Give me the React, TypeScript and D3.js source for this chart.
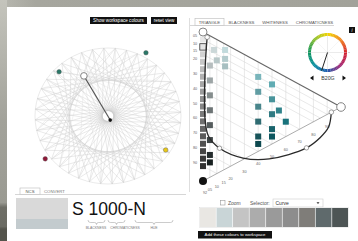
import React from "react";
import * as d3 from "d3";

const W = 358, H = 241;
const FONT = "'Liberation Sans', Arial, sans-serif";

// ---- data ----
const blacknessTicks = [5, 10, 15, 20, 30, 40, 50, 60, 70, 80, 90];
const chromaTicks = [5, 10, 15, 20, 30, 40, 50, 60, 70, 80, 90];
const greyScale = [5, 10, 15, 20, 25, 30, 35, 40, 45, 50, 55, 60, 65, 70, 75, 80, 85, 90];
const sampleS = [8, 4, 14, 10, 20, 15, 30, 40, 50, 60, 70, 80, 85, 10, 10, 20, 20, 30, 30, 25, 40, 40, 30, 50, 45, 55];
const sampleC = [8, 16, 10, 16, 5, 16, 5, 5, 5, 5, 5, 5, 5, 40, 50, 40, 50, 40, 50, 55, 40, 50, 60, 40, 50, 40];
const curveS = [2, 25, 58, 68, 72, 70, 61, 40, 28, 18, 7];
const curveC = [3, 1.5, 1.5, 4, 12, 29, 48, 75, 85, 91, 93];
const curveMarkers = [4, 7];
const stripColours = ["#e9e7e3", "#c9d5d7", "#c4c4c4", "#acacac", "#9a9a9a", "#8d8d8d", "#7f7d79", "#5f6a6c", "#4d5555"];
const hueStops = [0, 0.125, 0.25, 0.375, 0.5, 0.625, 0.75, 0.875, 1];
const hueColours = ["#f3d400", "#f08020", "#d42030", "#a02878", "#1d5fb0", "#0890a0", "#10965a", "#90c030", "#f3d400"];
const selectedHue = 0.55; // B20G
const selectedBlackness = 10;
// projected 3D view markers (normalised -1..1)
const markerX = [-0.67, 0.52, -0.86, 0.79];
const markerY = [-0.65, -0.93, 0.63, 0.5];
const markerFill = ["#2a7868", "#2a7868", "#901838", "#e8c818"];
const nodeXY = [-0.33, -0.59];
const centreXY = [0.03, 0.06];
const chordSteps = [13, 19];
const tabs = ["TRIANGLE", "BLACKNESS", "WHITENESS", "CHROMATICNESS"];

export default function App() {
  React.useEffect(() => {
    document.body.style.margin = "0";
  }, []);

  // triangle scales
  const xC = d3.scaleLinear().domain([0, 100]).range([203, 341]);
  const yS = d3.scaleLinear().domain([0, 100]).range([32, 181]);
  const yShift = d3.scaleLinear().domain([0, 100]).range([0, 75]);
  const P = (s: number, c: number): [number, number] => [xC(c), yS(s) + yShift(c)];
  const grey = (s: number) => d3.interpolateRgb("#f2f2f2", "#1a1a1a")(s / 100);
  const sampleColour = (s: number, c: number) => {
    const w = (100 - s - c) / 100;
    const ch = [0, 150, 165];
    return d3.rgb(w * 242 + (c / 100) * ch[0], w * 242 + (c / 100) * ch[1], w * 242 + (c / 100) * ch[2]).formatHex();
  };

  // left view scales
  const sx = d3.scaleLinear().domain([-1, 1]).range([35, 181]);
  const sy = d3.scaleLinear().domain([-1, 1]).range([48, 184]);
  const N = 40;
  const ringPts = d3.range(N).map((i) => {
    const a = (i / N) * Math.PI * 2 + 0.1;
    return [sx(Math.cos(a)), sy(Math.sin(a))];
  });

  const curveLine = d3.line<number>()
    .x((i) => P(curveS[i], curveC[i])[0])
    .y((i) => P(curveS[i], curveC[i])[1])
    .curve(d3.curveCatmullRom.alpha(0.5));

  // hue wheel
  const hc = [327.5, 52.5];
  const hueCol = d3.scaleLinear<string>().domain(hueStops).range(hueColours).interpolate(d3.interpolateRgb);
  const arc = d3.arc<any>().innerRadius(16.5).outerRadius(19.5);
  const segs = d3.range(72);
  const needleA = selectedHue * Math.PI * 2;

  const brace = (x1: number, x2: number, y: number) => {
    const m = (x1 + x2) / 2;
    return `M${x1},${y} q0,2.5 2.5,2.5 L${m - 2},${y + 2.5} q2,0 2,2 q0,-2 2,-2 L${x2 - 2.5},${y + 2.5} q2.5,0 2.5,-2.5`;
  };

  const stripScale = d3.scaleBand<number>().domain(d3.range(stripColours.length)).range([200, 348]).paddingInner(0.04);

  return (
    <svg width={W} height={H} style={{ position: "absolute", left: 0, top: 0, display: "block", fontFamily: FONT }}>
      <defs>
        <linearGradient id="leftg" x1="0" y1="0" x2="0" y2="1">
          <stop offset="0" stopColor="#c4c4bc" />
          <stop offset="0.5" stopColor="#a2a29a" />
          <stop offset="0.84" stopColor="#9a9a92" />
          <stop offset="0.86" stopColor="#6e6e66" />
          <stop offset="0.94" stopColor="#6a6a62" />
          <stop offset="0.95" stopColor="#54544c" />
          <stop offset="1" stopColor="#54544c" />
        </linearGradient>
        <linearGradient id="topg" x1="0" y1="0" x2="1" y2="0">
          <stop offset="0" stopColor="#b8b8b0" />
          <stop offset="0.1" stopColor="#a6a69e" />
          <stop offset="1" stopColor="#a2a29a" />
        </linearGradient>
      </defs>
      <rect x={0} y={0} width={W} height={H} fill="#a6a69e" />
      <rect x={0} y={0} width={W} height={7} fill="url(#topg)" />
      <rect x={0} y={0} width={7} height={H} fill="url(#leftg)" />
      <rect x={7} y={7} width={W - 7} height={H - 7} fill="#ffffff" />

      {/* top buttons */}
      <rect x={90} y={17} width={57} height={7} fill="#111" />
      <text x={118.5} y={22.2} fontSize={4.6} fill="#fff" textAnchor="middle">Show workspace colours</text>
      <rect x={151} y={17} width={26} height={7} fill="#111" />
      <text x={164} y={22.2} fontSize={4.6} fill="#fff" textAnchor="middle">reset view</text>

      {/* left 3D view */}
      <g>
        <ellipse cx={sx(0)} cy={sy(0)} rx={73} ry={68} fill="none" stroke="#d4d4d4" strokeWidth={0.5} />
        {chordSteps.map((k) =>
          ringPts.map((p, i) => {
            const q = ringPts[(i + k) % N];
            return <line key={"c" + k + "-" + i} x1={p[0]} y1={p[1]} x2={q[0]} y2={q[1]} stroke="#cacaca" strokeWidth={0.4} />;
          })
        )}
        {ringPts.map((p, i) => (i % 2 === 0 ? (
          <line key={"n" + i} x1={sx(nodeXY[0])} y1={sy(nodeXY[1])} x2={p[0]} y2={p[1]} stroke="#d8d8d8" strokeWidth={0.35} />
        ) : null))}
        <line x1={sx(nodeXY[0])} y1={sy(nodeXY[1])} x2={sx(centreXY[0])} y2={sy(centreXY[1])} stroke="#555" strokeWidth={1.1} />
        <circle cx={sx(nodeXY[0])} cy={sy(nodeXY[1])} r={3.3} fill="#fff" stroke="#777" strokeWidth={0.9} />
        <circle cx={sx(centreXY[0])} cy={sy(centreXY[1])} r={1.8} fill="#111" />
        {markerX.map((mx, i) => (
          <circle key={"m" + i} cx={sx(mx)} cy={sy(markerY[i])} r={2.3} fill={markerFill[i]} stroke="#555" strokeWidth={0.4} />
        ))}
      </g>

      {/* NCS / CONVERT tabs */}
      <line x1={15} y1={194.5} x2={186} y2={194.5} stroke="#bbb" strokeWidth={0.6} />
      <rect x={20} y={188} width={20} height={6.5} fill="#fff" stroke="#bbb" strokeWidth={0.6} />
      <text x={30} y={192.8} fontSize={4.3} fill="#555" textAnchor="middle">NCS</text>
      <text x={44} y={192.8} fontSize={4.3} fill="#777">CONVERT</text>

      {/* swatch */}
      <rect x={16} y={198} width={52} height={21} fill="#d9d9d9" />
      <rect x={16} y={219} width={52} height={10} fill="#c3cbce" />
      <text x={72} y={215} fontSize={17.5} fill="#111">S 1000-N</text>
      <path d={brace(88, 105, 220)} fill="none" stroke="#999" strokeWidth={0.5} />
      <path d={brace(108, 125, 220)} fill="none" stroke="#999" strokeWidth={0.5} />
      <path d={brace(135, 173, 220)} fill="none" stroke="#999" strokeWidth={0.5} />
      <text x={96} y={229} fontSize={3.4} fill="#777" textAnchor="middle">BLACKNESS</text>
      <text x={125} y={229} fontSize={3.4} fill="#777" textAnchor="middle">CHROMATICNESS</text>
      <text x={154} y={229} fontSize={3.4} fill="#777" textAnchor="middle">HUE</text>

      {/* right panel */}
      <line x1={189.5} y1={18} x2={189.5} y2={192} stroke="#c8c8c8" strokeWidth={0.6} />
      <line x1={190} y1={25.5} x2={334} y2={25.5} stroke="#bbb" strokeWidth={0.6} />
      <rect x={195} y={18.5} width={29} height={7} fill="#fff" stroke="#bbb" strokeWidth={0.6} />
      {tabs.map((t, i) => (
        <text key={t} x={[209.5, 241.5, 275, 314.5][i]} y={23.5} fontSize={4.3} fill="#555" textAnchor="middle">{t}</text>
      ))}
      <rect x={349} y={27} width={6} height={6} fill="#111" />
      <text x={352} y={31.8} fontSize={4.5} fill="#fff" textAnchor="middle" fontStyle="italic">i</text>

      {/* triangle grid */}
      <g>
        {blacknessTicks.map((s) => {
          const a = P(s, 0), b = P(s, 100 - s);
          return <line key={"bs" + s} x1={a[0]} y1={a[1]} x2={b[0]} y2={b[1]} stroke="#d2d2d2" strokeWidth={0.5} />;
        })}
        {chromaTicks.map((c) => {
          const a = P(0, c), b = P(100 - c, c);
          return <line key={"cc" + c} x1={a[0]} y1={a[1]} x2={b[0]} y2={b[1]} stroke="#d2d2d2" strokeWidth={0.5} />;
        })}
        <line x1={P(100, 0)[0]} y1={P(100, 0)[1]} x2={P(0, 100)[0]} y2={P(0, 100)[1]} stroke="#888" strokeWidth={0.7} />
        <line x1={P(0, 0)[0]} y1={P(0, 0)[1]} x2={P(0, 100)[0]} y2={P(0, 100)[1]} stroke="#666" strokeWidth={1.1} />
        {blacknessTicks.map((s) => (
          <text key={"bl" + s} x={195} y={yS(s) - 3} fontSize={3.8} fill="#666" textAnchor="middle" dominantBaseline="middle">
            {String(s).padStart(2, "0")}
          </text>
        ))}
        {chromaTicks.map((c) => {
          const b = P(100 - c, c);
          return (
            <text key={"cl" + c} x={b[0]} y={b[1] + 13} fontSize={3.8} fill="#666" textAnchor="middle" dominantBaseline="middle">
              {String(c).padStart(2, "0")}
            </text>
          );
        })}
        <text x={205} y={193} fontSize={3.8} fill="#666" textAnchor="middle" dominantBaseline="middle">92</text>
        {greyScale.map((s) => {
          const p = P(s, 0);
          return <rect key={"g" + s} x={p[0] - 3} y={p[1] - 3} width={6} height={6} fill={grey(s)} />;
        })}
        {sampleS.map((s, i) => {
          const p = P(s, sampleC[i]);
          return <rect key={"s" + i} x={p[0] - 3} y={p[1] - 3} width={6} height={6} fill={sampleColour(s, sampleC[i])} />;
        })}
        <rect x={P(selectedBlackness, 0)[0] - 3.2} y={P(selectedBlackness, 0)[1] - 3.2} width={6.4} height={6.4} fill="#e4e4e4" stroke="#333" strokeWidth={0.8} />
        <path d={curveLine(d3.range(curveS.length)) || ""} fill="none" stroke="#2a2a2a" strokeWidth={1.3} />
        {curveMarkers.map((i) => {
          const p = P(curveS[i], curveC[i]);
          return <circle key={"cm" + i} cx={p[0]} cy={p[1]} r={2.2} fill="#fff" stroke="#666" strokeWidth={0.6} />;
        })}
        {[0, curveS.length - 1].map((i) => {
          const p = P(curveS[i], curveC[i]);
          return <circle key={"ce" + i} cx={p[0]} cy={p[1]} r={2.3} fill="#fff" stroke="#666" strokeWidth={0.6} />;
        })}
        <circle cx={P(0, 0)[0]} cy={P(0, 0)[1]} r={4} fill="#fff" stroke="#777" strokeWidth={0.9} />
        <circle cx={P(0, 100)[0]} cy={P(0, 100)[1]} r={4.3} fill="#fff" stroke="#777" strokeWidth={0.9} />
        <circle cx={P(100, 0)[0]} cy={P(100, 0)[1]} r={4} fill="#111" />
      </g>

      {/* hue wheel */}
      <g transform={`translate(${hc[0]},${hc[1]})`}>
        {segs.map((i) => (
          <path key={"h" + i} d={arc({ startAngle: (i / 72) * Math.PI * 2, endAngle: ((i + 1.1) / 72) * Math.PI * 2 }) || ""} fill={hueCol(i / 72)} />
        ))}
        <line x1={-19} y1={0} x2={19} y2={0} stroke="#ccc" strokeWidth={0.4} />
        <line x1={0} y1={-19} x2={0} y2={19} stroke="#ccc" strokeWidth={0.4} />
        <line x1={-12} y1={-12} x2={12} y2={12} stroke="#e2e2e2" strokeWidth={0.3} />
        <line x1={-12} y1={12} x2={12} y2={-12} stroke="#e2e2e2" strokeWidth={0.3} />
        <circle cx={-21.5} cy={0} r={0.5} fill="#999" />
        <circle cx={21.5} cy={0} r={0.5} fill="#999" />
        <line x1={0} y1={0} x2={19 * Math.sin(needleA)} y2={-19 * Math.cos(needleA)} stroke="#222" strokeWidth={1} />
      </g>
      <path d="M310,78 l3.5,-2.5 v5 z" fill="#111" />
      <text x={328} y={79.8} fontSize={5.2} fill="#333" textAnchor="middle">B20G</text>
      <path d="M346,78 l-3.5,-2.5 v5 z" fill="#111" />

      {/* controls */}
      <rect x={220.5} y={200.5} width={4.5} height={4.5} fill="#fff" stroke="#999" strokeWidth={0.6} />
      <text x={228} y={204.8} fontSize={5} fill="#555">Zoom</text>
      <text x={250} y={204.8} fontSize={5} fill="#555">Selector:</text>
      <rect x={273} y={199} width={50} height={8} fill="#fff" stroke="#ccc" strokeWidth={0.6} />
      <text x={275.5} y={204.8} fontSize={5} fill="#333">Curve</text>
      <path d="M316.5,202.3 h3 l-1.5,1.8 z" fill="#333" />

      <rect x={199.5} y={207.5} width={149} height={20} fill="#fff" stroke="#ddd" strokeWidth={0.5} />
      {stripColours.map((c, i) => (
        <rect key={"st" + i} x={stripScale(i)} y={208} width={stripScale.bandwidth()} height={19} fill={c} />
      ))}
      <rect x={198} y={231} width={74} height={7.5} fill="#111" />
      <text x={235} y={236.3} fontSize={4.3} fill="#fff" textAnchor="middle">Add these colours to workspace</text>
    </svg>
  );
}
